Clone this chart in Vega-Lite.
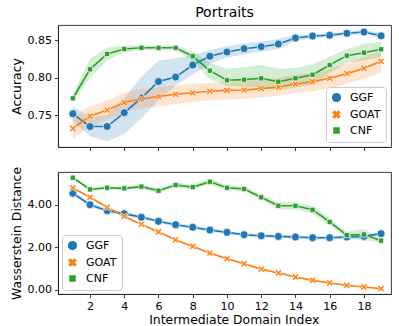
{
  "$schema": "https://vega.github.io/schema/vega-lite/v6.json",
  "autosize": {"type": "pad"},
  "padding": {"left": 9, "top": 5, "right": 0, "bottom": 0},
  "bounds": "flush",
  "spacing": 25,
  "config": {
    "font": "DejaVu Sans",
    "view": {"stroke": "#222", "strokeWidth": 0.9},
    "axis": {
      "grid": false,
      "domainColor": "#222",
      "domainWidth": 0.9,
      "tickColor": "#222",
      "tickWidth": 0.9,
      "tickSize": 3.5,
      "labelFont": "DejaVu Sans",
      "labelFontSize": 11,
      "labelColor": "#000",
      "labelPadding": 3,
      "titleFont": "DejaVu Sans",
      "titleFontSize": 12.4,
      "titleFontWeight": "normal",
      "titleColor": "#000"
    }
  },
  "datasets": {
    "d": [
      {"series": "GGF", "x": 1, "acc": 0.752, "acc_lo": 0.742, "acc_hi": 0.762, "wd": 4.54, "wd_lo": 4.46, "wd_hi": 4.62},
      {"series": "GGF", "x": 2, "acc": 0.735, "acc_lo": 0.722, "acc_hi": 0.748, "wd": 4.0, "wd_lo": 3.92, "wd_hi": 4.08},
      {"series": "GGF", "x": 3, "acc": 0.735, "acc_lo": 0.715, "acc_hi": 0.750, "wd": 3.72, "wd_lo": 3.62, "wd_hi": 3.82},
      {"series": "GGF", "x": 4, "acc": 0.7535, "acc_lo": 0.725, "acc_hi": 0.773, "wd": 3.58, "wd_lo": 3.49, "wd_hi": 3.67},
      {"series": "GGF", "x": 5, "acc": 0.773, "acc_lo": 0.746, "acc_hi": 0.801, "wd": 3.41, "wd_lo": 3.33, "wd_hi": 3.49},
      {"series": "GGF", "x": 6, "acc": 0.795, "acc_lo": 0.770, "acc_hi": 0.823, "wd": 3.22, "wd_lo": 3.14, "wd_hi": 3.30},
      {"series": "GGF", "x": 7, "acc": 0.801, "acc_lo": 0.790, "acc_hi": 0.826, "wd": 3.06, "wd_lo": 2.98, "wd_hi": 3.14},
      {"series": "GGF", "x": 8, "acc": 0.817, "acc_lo": 0.804, "acc_hi": 0.830, "wd": 2.94, "wd_lo": 2.85, "wd_hi": 3.03},
      {"series": "GGF", "x": 9, "acc": 0.8287, "acc_lo": 0.819, "acc_hi": 0.837, "wd": 2.81, "wd_lo": 2.73, "wd_hi": 2.89},
      {"series": "GGF", "x": 10, "acc": 0.8344, "acc_lo": 0.827, "acc_hi": 0.842, "wd": 2.70, "wd_lo": 2.62, "wd_hi": 2.78},
      {"series": "GGF", "x": 11, "acc": 0.8388, "acc_lo": 0.831, "acc_hi": 0.846, "wd": 2.59, "wd_lo": 2.51, "wd_hi": 2.67},
      {"series": "GGF", "x": 12, "acc": 0.8415, "acc_lo": 0.835, "acc_hi": 0.848, "wd": 2.54, "wd_lo": 2.46, "wd_hi": 2.62},
      {"series": "GGF", "x": 13, "acc": 0.845, "acc_lo": 0.838, "acc_hi": 0.852, "wd": 2.51, "wd_lo": 2.43, "wd_hi": 2.59},
      {"series": "GGF", "x": 14, "acc": 0.853, "acc_lo": 0.849, "acc_hi": 0.857, "wd": 2.48, "wd_lo": 2.40, "wd_hi": 2.56},
      {"series": "GGF", "x": 15, "acc": 0.8557, "acc_lo": 0.853, "acc_hi": 0.858, "wd": 2.45, "wd_lo": 2.37, "wd_hi": 2.53},
      {"series": "GGF", "x": 16, "acc": 0.8567, "acc_lo": 0.854, "acc_hi": 0.859, "wd": 2.45, "wd_lo": 2.37, "wd_hi": 2.53},
      {"series": "GGF", "x": 17, "acc": 0.8593, "acc_lo": 0.857, "acc_hi": 0.862, "wd": 2.48, "wd_lo": 2.40, "wd_hi": 2.56},
      {"series": "GGF", "x": 18, "acc": 0.861, "acc_lo": 0.858, "acc_hi": 0.864, "wd": 2.51, "wd_lo": 2.43, "wd_hi": 2.59},
      {"series": "GGF", "x": 19, "acc": 0.856, "acc_lo": 0.853, "acc_hi": 0.859, "wd": 2.64, "wd_lo": 2.56, "wd_hi": 2.72},
      {"series": "GOAT", "x": 1, "acc": 0.7327, "acc_lo": 0.718, "acc_hi": 0.748, "wd": 4.79, "wd_lo": 4.75, "wd_hi": 4.83},
      {"series": "GOAT", "x": 2, "acc": 0.7487, "acc_lo": 0.735, "acc_hi": 0.762, "wd": 4.35, "wd_lo": 4.31, "wd_hi": 4.39},
      {"series": "GOAT", "x": 3, "acc": 0.757, "acc_lo": 0.744, "acc_hi": 0.770, "wd": 3.88, "wd_lo": 3.84, "wd_hi": 3.92},
      {"series": "GOAT", "x": 4, "acc": 0.767, "acc_lo": 0.754, "acc_hi": 0.780, "wd": 3.45, "wd_lo": 3.41, "wd_hi": 3.49},
      {"series": "GOAT", "x": 5, "acc": 0.772, "acc_lo": 0.759, "acc_hi": 0.785, "wd": 3.08, "wd_lo": 3.04, "wd_hi": 3.12},
      {"series": "GOAT", "x": 6, "acc": 0.775, "acc_lo": 0.762, "acc_hi": 0.788, "wd": 2.72, "wd_lo": 2.68, "wd_hi": 2.76},
      {"series": "GOAT", "x": 7, "acc": 0.778, "acc_lo": 0.765, "acc_hi": 0.790, "wd": 2.35, "wd_lo": 2.31, "wd_hi": 2.39},
      {"series": "GOAT", "x": 8, "acc": 0.780, "acc_lo": 0.768, "acc_hi": 0.792, "wd": 2.04, "wd_lo": 2.00, "wd_hi": 2.08},
      {"series": "GOAT", "x": 9, "acc": 0.782, "acc_lo": 0.770, "acc_hi": 0.793, "wd": 1.73, "wd_lo": 1.69, "wd_hi": 1.77},
      {"series": "GOAT", "x": 10, "acc": 0.7833, "acc_lo": 0.771, "acc_hi": 0.794, "wd": 1.46, "wd_lo": 1.42, "wd_hi": 1.50},
      {"series": "GOAT", "x": 11, "acc": 0.7837, "acc_lo": 0.772, "acc_hi": 0.795, "wd": 1.22, "wd_lo": 1.18, "wd_hi": 1.26},
      {"series": "GOAT", "x": 12, "acc": 0.7855, "acc_lo": 0.774, "acc_hi": 0.797, "wd": 0.97, "wd_lo": 0.93, "wd_hi": 1.01},
      {"series": "GOAT", "x": 13, "acc": 0.7877, "acc_lo": 0.776, "acc_hi": 0.800, "wd": 0.79, "wd_lo": 0.75, "wd_hi": 0.83},
      {"series": "GOAT", "x": 14, "acc": 0.7917, "acc_lo": 0.780, "acc_hi": 0.804, "wd": 0.60, "wd_lo": 0.56, "wd_hi": 0.64},
      {"series": "GOAT", "x": 15, "acc": 0.7948, "acc_lo": 0.782, "acc_hi": 0.807, "wd": 0.44, "wd_lo": 0.40, "wd_hi": 0.48},
      {"series": "GOAT", "x": 16, "acc": 0.7993, "acc_lo": 0.786, "acc_hi": 0.812, "wd": 0.32, "wd_lo": 0.28, "wd_hi": 0.36},
      {"series": "GOAT", "x": 17, "acc": 0.8055, "acc_lo": 0.792, "acc_hi": 0.819, "wd": 0.21, "wd_lo": 0.17, "wd_hi": 0.25},
      {"series": "GOAT", "x": 18, "acc": 0.8127, "acc_lo": 0.799, "acc_hi": 0.827, "wd": 0.13, "wd_lo": 0.10, "wd_hi": 0.16},
      {"series": "GOAT", "x": 19, "acc": 0.822, "acc_lo": 0.807, "acc_hi": 0.837, "wd": 0.05, "wd_lo": 0.02, "wd_hi": 0.08},
      {"series": "CNF", "x": 1, "acc": 0.7727, "acc_lo": 0.768, "acc_hi": 0.778, "wd": 5.27, "wd_lo": 5.20, "wd_hi": 5.34},
      {"series": "CNF", "x": 2, "acc": 0.8113, "acc_lo": 0.800, "acc_hi": 0.825, "wd": 4.72, "wd_lo": 4.64, "wd_hi": 4.80},
      {"series": "CNF", "x": 3, "acc": 0.8317, "acc_lo": 0.823, "acc_hi": 0.840, "wd": 4.80, "wd_lo": 4.72, "wd_hi": 4.88},
      {"series": "CNF", "x": 4, "acc": 0.8384, "acc_lo": 0.834, "acc_hi": 0.843, "wd": 4.77, "wd_lo": 4.69, "wd_hi": 4.85},
      {"series": "CNF", "x": 5, "acc": 0.840, "acc_lo": 0.837, "acc_hi": 0.843, "wd": 4.85, "wd_lo": 4.75, "wd_hi": 4.95},
      {"series": "CNF", "x": 6, "acc": 0.840, "acc_lo": 0.837, "acc_hi": 0.843, "wd": 4.66, "wd_lo": 4.54, "wd_hi": 4.78},
      {"series": "CNF", "x": 7, "acc": 0.840, "acc_lo": 0.837, "acc_hi": 0.843, "wd": 4.93, "wd_lo": 4.81, "wd_hi": 5.05},
      {"series": "CNF", "x": 8, "acc": 0.8287, "acc_lo": 0.822, "acc_hi": 0.835, "wd": 4.83, "wd_lo": 4.71, "wd_hi": 4.95},
      {"series": "CNF", "x": 9, "acc": 0.8095, "acc_lo": 0.798, "acc_hi": 0.820, "wd": 5.08, "wd_lo": 4.94, "wd_hi": 5.22},
      {"series": "CNF", "x": 10, "acc": 0.7967, "acc_lo": 0.789, "acc_hi": 0.812, "wd": 4.80, "wd_lo": 4.68, "wd_hi": 4.92},
      {"series": "CNF", "x": 11, "acc": 0.7975, "acc_lo": 0.788, "acc_hi": 0.814, "wd": 4.74, "wd_lo": 4.62, "wd_hi": 4.86},
      {"series": "CNF", "x": 12, "acc": 0.7993, "acc_lo": 0.787, "acc_hi": 0.817, "wd": 4.35, "wd_lo": 4.23, "wd_hi": 4.47},
      {"series": "CNF", "x": 13, "acc": 0.7948, "acc_lo": 0.783, "acc_hi": 0.812, "wd": 3.95, "wd_lo": 3.78, "wd_hi": 4.12},
      {"series": "CNF", "x": 14, "acc": 0.7993, "acc_lo": 0.787, "acc_hi": 0.813, "wd": 3.95, "wd_lo": 3.78, "wd_hi": 4.12},
      {"series": "CNF", "x": 15, "acc": 0.8041, "acc_lo": 0.791, "acc_hi": 0.818, "wd": 3.76, "wd_lo": 3.58, "wd_hi": 3.94},
      {"series": "CNF", "x": 16, "acc": 0.817, "acc_lo": 0.806, "acc_hi": 0.828, "wd": 3.19, "wd_lo": 3.02, "wd_hi": 3.36},
      {"series": "CNF", "x": 17, "acc": 0.8295, "acc_lo": 0.820, "acc_hi": 0.838, "wd": 2.57, "wd_lo": 2.42, "wd_hi": 2.72},
      {"series": "CNF", "x": 18, "acc": 0.8335, "acc_lo": 0.823, "acc_hi": 0.845, "wd": 2.60, "wd_lo": 2.33, "wd_hi": 2.87},
      {"series": "CNF", "x": 19, "acc": 0.838, "acc_lo": 0.828, "acc_hi": 0.848, "wd": 2.31, "wd_lo": 2.23, "wd_hi": 2.39}
    ]
  },
  "resolve": {"scale": {"color": "independent", "shape": "independent"}, "legend": {"color": "independent", "shape": "independent"}},
  "vconcat": [
    {
      "width": 333,
      "height": 122,
      "title": {"text": "Portraits", "font": "DejaVu Sans", "fontSize": 14, "fontWeight": "normal", "color": "#000", "offset": 5},
      "data": {"name": "d"},
      "layer": [
        {
          "mark": {"type": "area", "opacity": 0.2},
          "encoding": {
            "x": {"field": "x", "type": "quantitative", "scale": {"domain": [0.13, 19.58], "nice": false, "zero": false}, "axis": {"values": [2,4,6,8,10,12,14,16,18], "labels": false, "title": null}},
            "y": {"field": "acc_lo", "type": "quantitative", "scale": {"domain": [0.7077, 0.8704], "nice": false, "zero": false}},
            "y2": {"field": "acc_hi"},
            "color": {"field": "series", "type": "nominal", "scale": {"domain": ["GGF", "GOAT", "CNF"], "range": ["#1f77b4", "#ff7f0e", "#2ca02c"]}, "legend": {
              "title": null, "orient": "bottom-right", "offset": 5,
              "labelFont": "DejaVu Sans", "labelFontSize": 11, "labelColor": "#000",
              "strokeColor": "#cccccc", "fillColor": "rgba(255,255,255,0.8)", "cornerRadius": 3, "padding": 5,
              "symbolSize": 60, "symbolOpacity": 1, "rowPadding": 3, "labelOffset": 8
            }}
          }
        },
        {
          "mark": {"type": "line", "strokeWidth": 1.6},
          "encoding": {
            "x": {"field": "x", "type": "quantitative"},
            "y": {"field": "acc", "type": "quantitative"},
            "color": {"field": "series", "type": "nominal"}
          }
        },
        {
          "mark": {"type": "point", "filled": true, "opacity": 1, "stroke": "white", "strokeWidth": 0.7, "size": 64},
          "encoding": {
            "x": {"field": "x", "type": "quantitative"},
            "y": {"field": "acc", "type": "quantitative", "axis": {"title": "Accuracy", "values": [0.75, 0.8, 0.85], "format": ".2f"}},
            "color": {"field": "series", "type": "nominal"},
            "shape": {"field": "series", "type": "nominal", "scale": {"domain": ["GGF", "GOAT", "CNF"], "range": ["circle", "M-0.85,-0.5L-0.5,-0.85L0,-0.35L0.5,-0.85L0.85,-0.5L0.35,0L0.85,0.5L0.5,0.85L0,0.35L-0.5,0.85L-0.85,0.5L-0.35,0Z", "M-0.65,-0.65H0.65V0.65H-0.65Z"]}, "legend": {"title": null, "orient": "bottom-right", "offset": 5}}
          }
        }
      ]
    },
    {
      "width": 333,
      "height": 122,
      "data": {"name": "d"},
      "layer": [
        {
          "mark": {"type": "area", "opacity": 0.2},
          "encoding": {
            "x": {"field": "x", "type": "quantitative", "scale": {"domain": [0.13, 19.58], "nice": false, "zero": false}, "axis": {"values": [2,4,6,8,10,12,14,16,18], "title": "Intermediate Domain Index", "titleX": 175.7, "titlePadding": 2}},
            "y": {"field": "wd_lo", "type": "quantitative", "scale": {"domain": [-0.2, 5.54], "nice": false, "zero": false}},
            "y2": {"field": "wd_hi"},
            "color": {"field": "series", "type": "nominal", "scale": {"domain": ["GGF", "GOAT", "CNF"], "range": ["#1f77b4", "#ff7f0e", "#2ca02c"]}, "legend": {
              "title": null, "orient": "bottom-left", "offset": 4,
              "labelFont": "DejaVu Sans", "labelFontSize": 11, "labelColor": "#000",
              "strokeColor": "#cccccc", "fillColor": "rgba(255,255,255,0.8)", "cornerRadius": 3, "padding": 5,
              "symbolSize": 60, "symbolOpacity": 1, "rowPadding": 3, "labelOffset": 8
            }}
          }
        },
        {
          "mark": {"type": "line", "strokeWidth": 1.6},
          "encoding": {
            "x": {"field": "x", "type": "quantitative"},
            "y": {"field": "wd", "type": "quantitative"},
            "color": {"field": "series", "type": "nominal"}
          }
        },
        {
          "mark": {"type": "point", "filled": true, "opacity": 1, "stroke": "white", "strokeWidth": 0.7, "size": 64},
          "encoding": {
            "x": {"field": "x", "type": "quantitative"},
            "y": {"field": "wd", "type": "quantitative", "axis": {"title": "Wasserstein Distance", "values": [0, 2, 4], "format": ".2f"}},
            "color": {"field": "series", "type": "nominal"},
            "shape": {"field": "series", "type": "nominal", "scale": {"domain": ["GGF", "GOAT", "CNF"], "range": ["circle", "M-0.85,-0.5L-0.5,-0.85L0,-0.35L0.5,-0.85L0.85,-0.5L0.35,0L0.85,0.5L0.5,0.85L0,0.35L-0.5,0.85L-0.85,0.5L-0.35,0Z", "M-0.65,-0.65H0.65V0.65H-0.65Z"]}, "legend": {"title": null, "orient": "bottom-left", "offset": 4}}
          }
        }
      ]
    }
  ]
}
